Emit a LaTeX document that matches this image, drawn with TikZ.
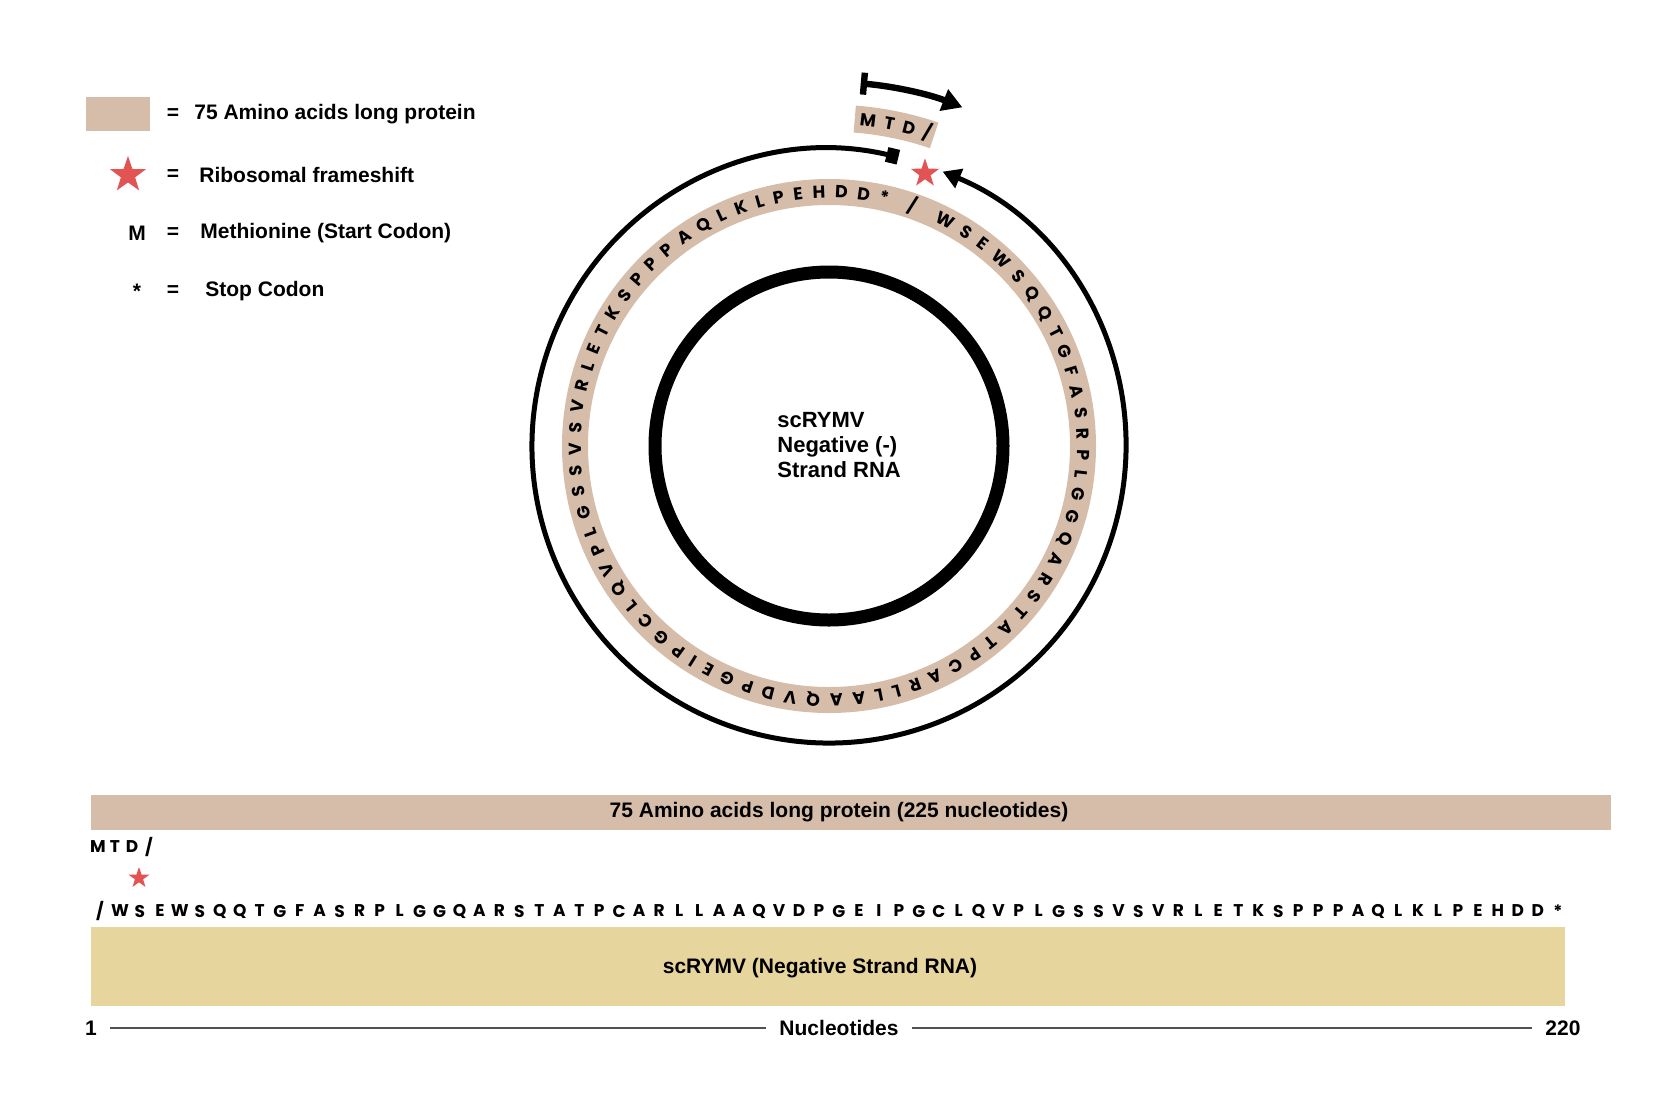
\documentclass[tikz,border=0pt]{standalone}
\usepackage{fontspec}
\setmainfont{Liberation Sans}
\newfontfamily\seqfont{Poppins}
\usetikzlibrary{arrows.meta,decorations.text,shapes.geometric}
\definecolor{protein}{RGB}{213,189,170}
\definecolor{rnayellow}{RGB}{231,213,158}
\definecolor{shiftred}{RGB}{226,84,84}
\definecolor{axisgray}{RGB}{80,80,80}

\begin{document}
\begin{tikzpicture}[x=0.5pt, y=-0.5pt,
    legtext/.style={anchor=west, inner sep=0pt, font=\fontsize{10.5}{12}\selectfont\bfseries},
    eqsign/.style={inner sep=0pt, font=\fontsize{10.5}{12}\selectfont\bfseries},
    frameshift/.style={star, star points=5, star point ratio=2.55, fill=shiftred, inner sep=0pt, minimum size=#1},
    frameshift/.default=15pt,
    seqletter/.style={inner sep=0pt, font=\seqfont\fontsize{8.5}{10}\selectfont\bfseries},
    barlabel/.style={inner sep=0pt, font=\fontsize{10.5}{12}\selectfont\bfseries},
    axislabel/.style={inner sep=6.5pt, font=\fontsize{10.5}{12}\selectfont\bfseries},
    ringtext/.style={decorate, decoration={text along path, text align={fit to path},
        text={|\seqfont\fontsize{8.7}{10}\selectfont\bfseries|#1}}}]
    \useasboundingbox (0,0) rectangle (1666,1099);

    \fill[protein] (86,97) rectangle (150,131);
    \node[eqsign] (eq1) at (173,114) {=};
    \node[legtext] (leg1) at (194,114) {75 Amino acids long protein};
    \node[frameshift=19pt] (legstar) at (128,175) {};
    \node[eqsign] (eq2) at (173,175) {=};
    \node[legtext] (leg2) at (199,175) {Ribosomal frameshift};
    \node[eqsign] (legm) at (137,233) {M};
    \node[eqsign] (eq3) at (173,233) {=};
    \node[legtext] (leg3) at (200,233) {Methionine (Start Codon)};
    \node[eqsign] (legstop) at (137,291) {*};
    \node[eqsign] (eq4) at (173,291) {=};
    \node[legtext] (leg4) at (205,291) {Stop Codon};

    \begin{scope}[shift={(829,446)}, yscale=-1]
        \draw[line width=6.5pt] (0,0) circle[radius=174];
        \draw[protein, line width=13pt] (0,0) circle[radius=254];
        \path[ringtext={/ WSEWSQQTGFASRPLGGQARSTATPCARLLAAQVDPGEIPGCLQVPLGSSVSVRLETKSPPPAQLKLPEHDD*}]
            (71.8:248) arc[start angle=71.8, end angle=-283.6, radius=248];
        \draw[line width=2.5pt, {Square[length=6pt,width=7.5pt]}-{Triangle[length=9pt,width=10pt]}]
            (76.5:297) arc[start angle=76.5, end angle=427.5, radius=297];
        \draw[protein, line width=13.5pt] (85.5:328) arc[start angle=85.5, end angle=71.3, radius=328];
        \path[ringtext={MTD/}] (84.6:322) arc[start angle=84.6, end angle=71.9, radius=322];
        \draw[line width=3.2pt, {Bar[width=11pt]}-{Triangle[length=10pt,width=11pt]}]
            (85:364) arc[start angle=85, end angle=68.5, radius=364];
        \node[frameshift] (shiftstar) at (70.6:289) {};
    \end{scope}
    \node[barlabel, align=left, anchor=west, font=\fontsize{11}{12.3}\selectfont\bfseries] (rnaname) at (777,445) {scRYMV\\Negative (-)\\Strand RNA};

    \fill[protein] (91,795) rectangle (1611,830);
    \node[barlabel] (aalabel) at (839,812.5) {75 Amino acids long protein (225 nucleotides)};
    \foreach \ch [count=\i from 0] in {M,T,D,/}
        \node[seqletter] (mtd\i) at (98+\i*17,847) {\ch};
    \node[frameshift=11pt] (seqstar) at (139,878) {};
    \foreach \ch [count=\i from 0] in {/,W,S,E,W,S,Q,Q,T,G,F,A,S,R,P,L,G,G,Q,A,R,S,T,A,T,P,C,A,R,L,L,A,A,Q,V,D,P,G,E,I,P,G,C,L,Q,V,P,L,G,S,S,V,S,V,R,L,E,T,K,S,P,P,P,A,Q,L,K,L,P,E,H,D,D,*}
        \node[seqletter] (seq\i) at (100+\i*19.97,911) {\ch};
    \fill[rnayellow] (91,927) rectangle (1565,1006);
    \node[barlabel] (rnalabel) at (820,968) {scRYMV (Negative Strand RNA)};
    \node[axislabel] (startnum) at (91,1028) {1};
    \node[axislabel] (axisname) at (839,1028) {Nucleotides};
    \node[axislabel] (endnum) at (1563,1028) {220};
    \draw[axisgray, line width=0.8pt] (startnum) -- (axisname);
    \draw[axisgray, line width=0.8pt] (axisname) -- (endnum);
\end{tikzpicture}
\end{document}
